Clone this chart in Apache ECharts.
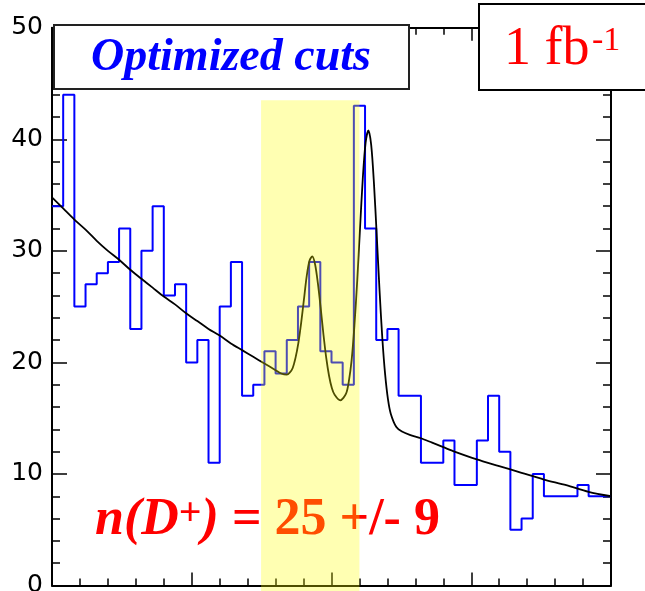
<!DOCTYPE html>
<html>
<head>
<meta charset="utf-8">
<script src="https://cdn.jsdelivr.net/npm/echarts@6/dist/echarts.min.js"></script>
<style>
  html, body { margin: 0; padding: 0; background: #ffffff; }
  #chart { width: 645px; height: 591px; }
</style>
</head>
<body>
<div id="chart"></div>
<script>
// Entries per mass bin (50 bins, x measured in bin units)
const binCounts = [
  34, 44, 25, 27, 28, 29, 32, 23, 30, 34,
  26, 27, 20, 22, 11, 25, 29, 17, 18, 21,
  19, 22, 25, 29, 21, 20, 18, 43, 32, 22,
  23, 17, 17, 11, 11, 13,  9,  9, 13, 17,
  12,  5,  6, 10,  8,  8,  8,  9,  8,  8
];

// Fitted curve: falling background plus the D+ and Ds peaks
const fitX = [
  0, 1, 2, 3, 4, 5, 6, 7, 8, 9, 10, 11, 12, 13, 14, 15, 16, 17, 18, 19, 20,
  20.5, 21, 21.28, 21.53, 21.78, 22.03, 22.28, 22.53, 22.78, 23.03,
  23.28, 23.53, 23.78, 24.03, 24.28, 24.53, 24.78, 25.03, 25.28, 25.78,
  26.3, 26.55, 26.8, 27.05, 27.3, 27.55, 27.8, 28.05, 28.3, 28.55,
  28.8, 29.05, 29.3, 29.55, 29.8, 30.05, 30.3, 30.8, 31.3, 32,
  33, 34, 35, 36, 38, 40, 42, 44, 46, 48, 50
];
const fitY = [
  34.8, 33.8, 32.8, 31.9, 30.9, 30.0, 29.2, 28.3, 27.5, 26.7, 25.9, 25.2, 24.4, 23.7, 23.0, 22.4, 21.7, 21.1, 20.5, 19.9, 19.3,
  19.0, 18.9, 19.1, 19.5, 20.4, 21.7, 23.5, 25.6, 27.7, 29.1,
  29.5, 28.8, 27.1, 24.9, 22.5, 20.4, 18.8, 17.7, 17.1, 16.6,
  17.2, 18.3, 20.2, 23.3, 27.3, 32.0, 36.5, 39.7, 40.8, 39.5,
  36.0, 31.3, 26.4, 22.1, 18.9, 16.7, 15.4, 14.2, 13.8, 13.5,
  13.2, 12.8, 12.4, 12.0, 11.3, 10.7, 10.1, 9.5, 9.0, 8.4, 8.0
];

// Signal window (bin units) and its vertical extent
const signalWindow = [18.7, 27.5];
const windowTop = 43.5;
const windowBottom = -0.5;

const yMax = 50;
const yStep = 10;
const xMax = binCounts.length;
const xStep = 12.5;

const histData = binCounts.map((v, i) => [i, v]);
histData.push([binCounts.length, binCounts[binCounts.length - 1]]);
const fitData = fitX.map((x, i) => [x, fitY[i]]);

const axisLine = { onZero: false, lineStyle: { color: '#000', width: 2 } };

function xAxisOf(position) {
  return {
    type: 'value', position: position, min: 0, max: xMax, interval: xStep,
    axisLine: axisLine,
    axisTick: { show: true, inside: true, length: 13, lineStyle: { color: '#000', width: 1.5 } },
    minorTick: { show: true, splitNumber: 5, length: 7, lineStyle: { color: '#000', width: 1.5 } },
    axisLabel: { show: false },
    splitLine: { show: false }, minorSplitLine: { show: false }
  };
}
function yAxisOf(position, labels) {
  return {
    type: 'value', position: position, min: 0, max: yMax, interval: yStep,
    axisLine: axisLine,
    axisTick: { show: true, inside: true, length: 15, lineStyle: { color: '#000', width: 1.5 } },
    minorTick: { show: true, splitNumber: 5, length: 8, lineStyle: { color: '#000', width: 1.5 } },
    axisLabel: { show: labels, margin: 9, fontSize: 25, color: '#000', fontFamily: 'DejaVu Sans' },
    splitLine: { show: false }, minorSplitLine: { show: false }
  };
}

const chart = echarts.init(document.getElementById('chart'), null, { renderer: 'canvas' });
chart.setOption({
  animation: false,
  backgroundColor: '#ffffff',
  grid: { left: 52, right: 34, top: 27.7, bottom: 5.5, containLabel: false, outerBoundsMode: 'none' },
  xAxis: [xAxisOf('bottom'), xAxisOf('top')],
  yAxis: [yAxisOf('left', true), yAxisOf('right', false)],
  series: [
    {
      name: 'data', type: 'line', step: 'end', data: histData,
      xAxisIndex: 0, yAxisIndex: 0, z: 3,
      symbol: 'none', lineStyle: { color: '#0000ff', width: 2 }
    },
    {
      name: 'fit', type: 'line', data: fitData, smooth: 0.3,
      xAxisIndex: 0, yAxisIndex: 0, z: 4,
      symbol: 'none', lineStyle: { color: '#000000', width: 1.8 }
    },
    {
      name: 'window', type: 'custom', z: 20, silent: true, clip: false,
      xAxisIndex: 0, yAxisIndex: 0,
      data: [[signalWindow[0], signalWindow[1], windowTop, windowBottom]],
      encode: { x: [0, 1], y: [2, 3] },
      renderItem: function (params, api) {
        const p0 = api.coord([api.value(0), api.value(2)]);
        const p1 = api.coord([api.value(1), api.value(3)]);
        return {
          type: 'rect',
          shape: { x: p0[0], y: p0[1], width: p1[0] - p0[0], height: p1[1] - p0[1] },
          style: { fill: 'rgba(255,255,0,0.3)' }
        };
      }
    }
  ],
  graphic: [
    {
      type: 'text', z: 10, x: 95, y: 521,
      style: {
        text: '{i|n(D}{s|+}{i|)}{b| = 25 +/- 9}',
        align: 'left', verticalAlign: 'middle',
        rich: {
          i: { fontFamily: 'Liberation Serif', fontStyle: 'italic', fontWeight: 'bold', fontSize: 52, lineHeight: 52, fill: '#ff0000' },
          s: { fontFamily: 'Liberation Serif', fontWeight: 'bold', fontSize: 40, lineHeight: 40, verticalAlign: 'top', fill: '#ff0000' },
          b: { fontFamily: 'Liberation Serif', fontWeight: 'bold', fontSize: 52, lineHeight: 52, fill: '#ff0000' }
        }
      }
    },
    {
      type: 'rect', z: 100,
      shape: { x: 54, y: 25, width: 355, height: 64 },
      style: { fill: '#ffffff', stroke: '#222222', lineWidth: 2 }
    },
    {
      type: 'text', z: 101, x: 231, y: 58,
      style: { text: 'Optimized cuts', font: 'italic bold 46px "Liberation Serif"', fill: '#0000ff', align: 'center', verticalAlign: 'middle' }
    },
    {
      type: 'rect', z: 100,
      shape: { x: 479, y: 4, width: 200, height: 86 },
      style: { fill: '#ffffff', stroke: '#000000', lineWidth: 2 }
    },
    {
      type: 'text', z: 101, x: 504, y: 50,
      style: { text: '1 fb', font: '54px "Liberation Serif"', fill: '#ff0000', align: 'left', verticalAlign: 'middle' }
    },
    {
      type: 'text', z: 101, x: 592, y: 41,
      style: { text: '-1', font: '34px "Liberation Serif"', fill: '#ff0000', align: 'left', verticalAlign: 'middle' }
    }
  ]
});
</script>
</body>
</html>
